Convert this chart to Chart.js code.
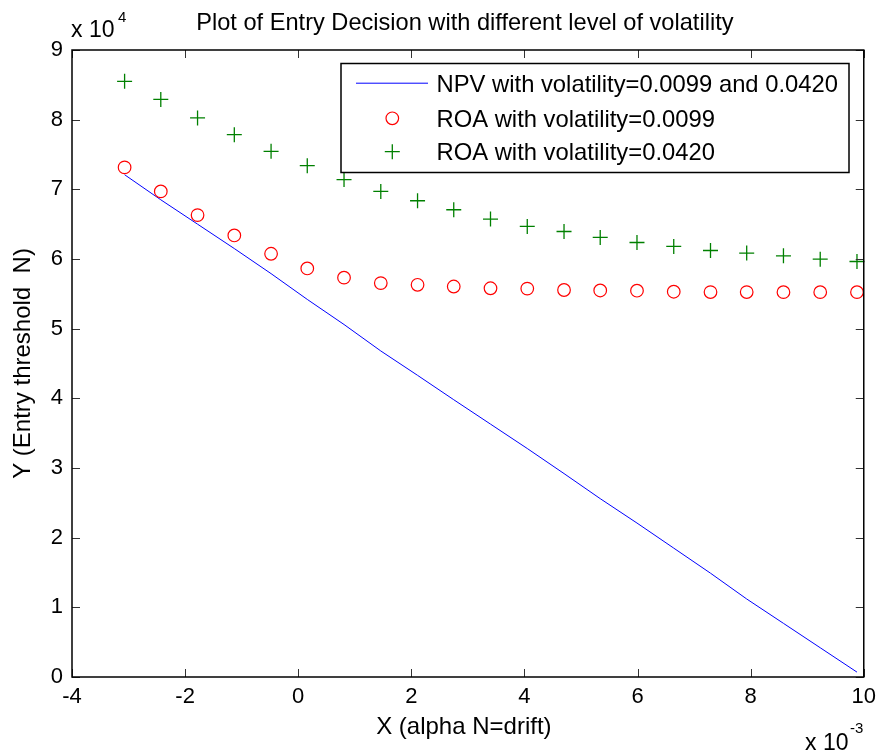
<!DOCTYPE html>
<html>
<head>
<meta charset="utf-8">
<title>Entry Decision vs. Drift</title>
<script src="https://cdn.jsdelivr.net/npm/chart.js@4/dist/chart.umd.min.js"></script>
<style>
  html, body { margin: 0; padding: 0; background: #ffffff; }
  #wrap { width: 883px; height: 756px; position: relative; }
</style>
</head>
<body>
<div id="wrap"><canvas id="c" width="883" height="756"></canvas></div>
<script>
// Drift values (alpha N)
const drift = [-0.00307, -0.00243, -0.00178, -0.00113, -0.00048, 0.00016, 0.00081,
               0.00146, 0.00211, 0.00275, 0.00340, 0.00405, 0.00470, 0.00534,
               0.00599, 0.00664, 0.00729, 0.00793, 0.00858, 0.00923, 0.00988];

// NPV entry threshold (same for both volatilities)
const npvThreshold = [72100, 68500, 65000, 61500, 57900, 54200, 50600,
                      46800, 43300, 39800, 36300, 32800, 29200, 25600,
                      22100, 18500, 14900, 11200, 7700, 4200, 700];

// Real-options entry threshold, volatility = 0.0099
const roaLowVol = [73150, 69700, 66300, 63380, 60750, 58640, 57320,
                   56540, 56300, 56050, 55800, 55750, 55550, 55480,
                   55450, 55300, 55250, 55250, 55240, 55240, 55240];

// Real-options entry threshold, volatility = 0.0420
const roaHighVol = [85500, 82900, 80250, 77850, 75450, 73400, 71400,
                    69700, 68360, 67070, 65730, 64670, 63950, 63100,
                    62370, 61800, 61220, 60850, 60460, 59980, 59640];

const seriesNames = ['NPV with volatility=0.0099 and 0.0420',
                     'ROA with volatility=0.0099',
                     'ROA with volatility=0.0420'];

const chartTitle = 'Plot of Entry Decision with different level of volatility';
const xTitle = 'X (alpha N=drift)';
const yTitle = 'Y (Entry threshold  N)';

const xTicks = [-0.004, -0.002, 0, 0.002, 0.004, 0.006, 0.008, 0.010];
const yTicks = [0, 10000, 20000, 30000, 40000, 50000, 60000, 70000, 80000, 90000];

const FONT = '"Liberation Sans", Arial, Helvetica, sans-serif';
const pairs = ys => drift.map((x, i) => ({ x: x, y: ys[i] }));

// Axes box, inward tick marks, text labels and the legend, MATLAB style
const decorations = {
  id: 'decorations',
  afterDatasetsDraw(chart) {
    const ctx = chart.ctx;
    const a = chart.chartArea;
    const xs = chart.scales.x, ys = chart.scales.y;
    const tl = 8;
    ctx.save();

    // tick marks on all four sides
    ctx.strokeStyle = '#333333';
    ctx.lineWidth = 1;
    ctx.beginPath();
    xTicks.forEach(v => {
      const px = Math.round(xs.getPixelForValue(v)) + 0.5;
      ctx.moveTo(px, a.bottom); ctx.lineTo(px, a.bottom - tl);
      ctx.moveTo(px, a.top); ctx.lineTo(px, a.top + tl);
    });
    yTicks.forEach(v => {
      const py = Math.round(ys.getPixelForValue(v)) + 0.5;
      ctx.moveTo(a.left, py); ctx.lineTo(a.left + tl, py);
      ctx.moveTo(a.right, py); ctx.lineTo(a.right - tl, py);
    });
    ctx.stroke();

    // box
    ctx.strokeStyle = '#000000';
    ctx.lineWidth = 1.5;
    ctx.strokeRect(a.left, a.top, a.right - a.left, a.bottom - a.top);

    // title
    ctx.fillStyle = '#000000';
    ctx.textBaseline = 'alphabetic';
    ctx.textAlign = 'center';
    ctx.font = '23.6px ' + FONT;
    const cx = (a.left + a.right) / 2 - 3;
    ctx.fillText(chartTitle, cx, 30);

    // x axis title
    ctx.font = '24px ' + FONT;
    ctx.fillText(xTitle, cx - 1, 734);

    // y axis title
    ctx.save();
    ctx.translate(30, (a.top + a.bottom) / 2);
    ctx.rotate(-Math.PI / 2);
    ctx.fillText(yTitle, 0, 0);
    ctx.restore();

    // exponent labels
    ctx.textAlign = 'left';
    ctx.font = '23px ' + FONT;
    ctx.fillText('x 10', a.left - 1, 37);
    ctx.font = '15px ' + FONT;
    ctx.fillText('4', a.left + 46, 22);
    ctx.font = '23px ' + FONT;
    ctx.fillText('x 10', 805, 750);
    ctx.font = '15px ' + FONT;
    ctx.fillText('-3', 850, 733);

    // legend
    const lx = 341, ly = 63.5, lw = 508, lh = 109;
    ctx.fillStyle = '#ffffff';
    ctx.fillRect(lx, ly, lw, lh);
    ctx.strokeStyle = '#000000';
    ctx.lineWidth = 1.5;
    ctx.strokeRect(lx, ly, lw, lh);

    const rows = [82.7, 118.3, 151.7];
    // line sample
    ctx.strokeStyle = '#0000ff';
    ctx.lineWidth = 1;
    ctx.beginPath();
    ctx.moveTo(356, rows[0] + 0.5); ctx.lineTo(428, rows[0] + 0.5);
    ctx.stroke();
    // circle sample
    ctx.strokeStyle = '#ff0000';
    ctx.lineWidth = 1.2;
    ctx.beginPath();
    ctx.arc(392.3, rows[1], 6.3, 0, Math.PI * 2);
    ctx.stroke();
    // plus sample
    ctx.strokeStyle = '#008000';
    ctx.lineWidth = 1.3;
    ctx.beginPath();
    ctx.moveTo(392.3 - 7.5, rows[2]); ctx.lineTo(392.3 + 7.5, rows[2]);
    ctx.moveTo(392.3, rows[2] - 7.5); ctx.lineTo(392.3, rows[2] + 7.5);
    ctx.stroke();

    ctx.fillStyle = '#000000';
    ctx.font = '23.8px ' + FONT;
    ctx.textAlign = 'left';
    ctx.textBaseline = 'alphabetic';
    ctx.fillText(seriesNames[0], 436.5, 91.5);
    ctx.fillText(seriesNames[1], 436.5, 126.8);
    ctx.fillText(seriesNames[2], 436.5, 160);

    ctx.restore();
  }
};

new Chart(document.getElementById('c'), {
  type: 'scatter',
  data: {
    datasets: [
      {
        label: seriesNames[0],
        data: pairs(npvThreshold),
        showLine: true,
        borderColor: '#0000ff',
        borderWidth: 1,
        pointRadius: 0,
        tension: 0,
        fill: false,
        clip: false,
        order: 3
      },
      {
        label: seriesNames[1],
        data: pairs(roaLowVol),
        showLine: false,
        pointStyle: 'circle',
        pointRadius: 6.3,
        pointBorderColor: '#ff0000',
        pointBackgroundColor: 'rgba(0,0,0,0)',
        pointBorderWidth: 1.2,
        clip: false,
        order: 2
      },
      {
        label: seriesNames[2],
        data: pairs(roaHighVol),
        showLine: false,
        pointStyle: 'cross',
        pointRadius: 7.5,
        pointBorderColor: '#008000',
        pointBackgroundColor: '#008000',
        pointBorderWidth: 1.3,
        clip: false,
        order: 1
      }
    ]
  },
  options: {
    responsive: false,
    animation: false,
    devicePixelRatio: 1,
    layout: { padding: { top: 50, right: 16, left: 0, bottom: 0 } },
    plugins: {
      legend: { display: false },
      title: { display: false },
      tooltip: { enabled: false }
    },
    scales: {
      x: {
        type: 'linear',
        min: -0.004,
        max: 0.01,
        afterBuildTicks: s => { s.ticks = xTicks.map(v => ({ value: v })); },
        afterFit: s => { s.height = 79; },
        grid: { display: false, drawTicks: false },
        border: { display: false },
        ticks: {
          padding: 7,
          color: '#000000',
          font: { family: FONT, size: 22 },
          maxRotation: 0,
          callback: v => String(Math.round(v * 1000))
        }
      },
      y: {
        type: 'linear',
        min: 0,
        max: 90000,
        afterBuildTicks: s => { s.ticks = yTicks.map(v => ({ value: v })); },
        afterFit: s => { s.width = 72; },
        grid: { display: false, drawTicks: false },
        border: { display: false },
        ticks: {
          padding: 9,
          color: '#000000',
          font: { family: FONT, size: 22 },
          callback: v => String(Math.round(v / 10000))
        }
      }
    }
  },
  plugins: [decorations]
});
</script>
</body>
</html>
